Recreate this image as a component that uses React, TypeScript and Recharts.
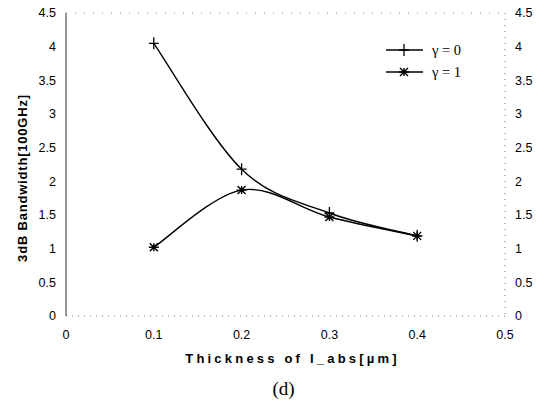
import { LineChart, Line, XAxis, YAxis, ReferenceLine } from 'recharts';

const thickness = [0.1, 0.2, 0.3, 0.4];
const gamma0 = [4.05, 2.18, 1.53, 1.19];
const gamma1 = [1.02, 1.87, 1.47, 1.19];
const xTicks = [0, 0.1, 0.2, 0.3, 0.4, 0.5];
const yTicks = [0, 0.5, 1, 1.5, 2, 2.5, 3, 3.5, 4, 4.5];

const data = thickness.map((t, i) => ({ t, g0: gamma0[i], g1: gamma1[i] }));

// Excel-style smoothed line (cardinal-ish bezier through every point)
const smoothCurve = (ctx: any) => {
  let pts: [number, number][] = [];
  return {
    areaStart() {},
    areaEnd() {},
    lineStart() {
      pts = [];
    },
    point(x: number, y: number) {
      pts.push([+x, +y]);
    },
    lineEnd() {
      if (!pts.length) return;
      ctx.moveTo(pts[0][0], pts[0][1]);
      for (let i = 0; i < pts.length - 1; i++) {
        const p0 = pts[Math.max(i - 1, 0)];
        const p1 = pts[i];
        const p2 = pts[i + 1];
        const p3 = pts[Math.min(i + 2, pts.length - 1)];
        ctx.bezierCurveTo(
          p1[0] + (p2[0] - p0[0]) / 6,
          p1[1] + (p2[1] - p0[1]) / 6,
          p2[0] - (p3[0] - p1[0]) / 6,
          p2[1] - (p3[1] - p1[1]) / 6,
          p2[0],
          p2[1]
        );
      }
    },
  };
};

const PlusDot = ({ cx, cy }: any) => (
  <path d={`M${cx - 5},${cy}H${cx + 5}M${cx},${cy - 6}V${cy + 6}`} stroke="#000" strokeWidth={1.3} />
);

const StarDot = ({ cx, cy }: any) => (
  <path
    d={`M${cx - 5},${cy}H${cx + 5}M${cx - 4},${cy - 4}L${cx + 4},${cy + 4}M${cx - 4},${cy + 4}L${cx + 4},${cy - 4}M${cx},${cy - 4}V${cy + 4}`}
    stroke="#000"
    strokeWidth={1.4}
  />
);

const sans = 'Liberation Sans, Arial';
const serif = 'Liberation Serif, Times New Roman';
const tickStyle = { fill: '#000', fontSize: 12.5, fontFamily: sans };

export default function App() {
  return (
    <div style={{ position: 'absolute', left: 0, top: 0, width: 547, height: 414, background: '#fff' }}>
      <LineChart width={547} height={414} data={data} margin={{ top: 13, right: 0, bottom: 68, left: 10 }}>
        <XAxis
          dataKey="t"
          type="number"
          domain={[0, 0.5]}
          ticks={xTicks}
          tick={tickStyle}
          tickLine={false}
          tickMargin={8}
          axisLine={{ stroke: '#777', strokeDasharray: '1 5' }}
          label={{
            value: 'Thickness of I_abs[µm]',
            position: 'insideBottom',
            offset: -17,
            dx: 7,
            style: { fill: '#000', fontSize: 13, fontWeight: 'bold', letterSpacing: 3.2, fontFamily: sans },
          }}
        />
        <YAxis
          yAxisId="l"
          domain={[0, 4.5]}
          ticks={yTicks}
          tick={tickStyle}
          width={56}
          tickSize={0}
          tickMargin={10}
          axisLine={{ stroke: '#333', strokeWidth: 1 }}
        />
        <YAxis
          yAxisId="r"
          orientation="right"
          domain={[0, 4.5]}
          ticks={yTicks}
          tick={tickStyle}
          width={42}
          tickSize={0}
          tickMargin={10}
          axisLine={{ stroke: '#777', strokeDasharray: '1 5' }}
        />
        <ReferenceLine yAxisId="l" y={4.5} stroke="#888" strokeDasharray="1 8" />
        <Line
          yAxisId="l"
          dataKey="g0"
          type={smoothCurve as any}
          stroke="#000"
          strokeWidth={1.4}
          dot={<PlusDot />}
          isAnimationActive={false}
        />
        <Line
          yAxisId="l"
          dataKey="g1"
          type={smoothCurve as any}
          stroke="#000"
          strokeWidth={1.4}
          dot={<StarDot />}
          isAnimationActive={false}
        />
        <Line
          yAxisId="r"
          dataKey="g1"
          stroke="none"
          dot={false}
          activeDot={false}
          isAnimationActive={false}
        />
      </LineChart>
      <svg width={40} height={300} style={{ position: 'absolute', left: 0, top: 0 }}>
        <text
          x={22}
          y={178}
          transform="rotate(-90 22 178)"
          textAnchor="middle"
          dominantBaseline="central"
          fontFamily={sans}
          fontSize={13}
          fontWeight="bold"
          letterSpacing={0.8}
        >
          3dB Bandwidth[100GHz]
        </text>
      </svg>
      <svg width={100} height={50} style={{ position: 'absolute', left: 384, top: 40 }}>
        <line x1={2} y1={10} x2={39} y2={10} stroke="#000" strokeWidth={1.4} />
        <PlusDot cx={20} cy={10} />
        <text x={48} y={15} fontFamily={serif} fontSize={14.5}>γ = 0</text>
        <line x1={2} y1={32} x2={39} y2={32} stroke="#000" strokeWidth={1.4} />
        <StarDot cx={20} cy={32} />
        <text x={48} y={37} fontFamily={serif} fontSize={14.5}>γ = 1</text>
      </svg>
      <div
        style={{
          position: 'absolute',
          top: 378,
          left: 0,
          width: 547,
          textAlign: 'center',
          fontFamily: serif,
          fontSize: 19,
          paddingLeft: 10,
        }}
      >
        (d)
      </div>
    </div>
  );
}
